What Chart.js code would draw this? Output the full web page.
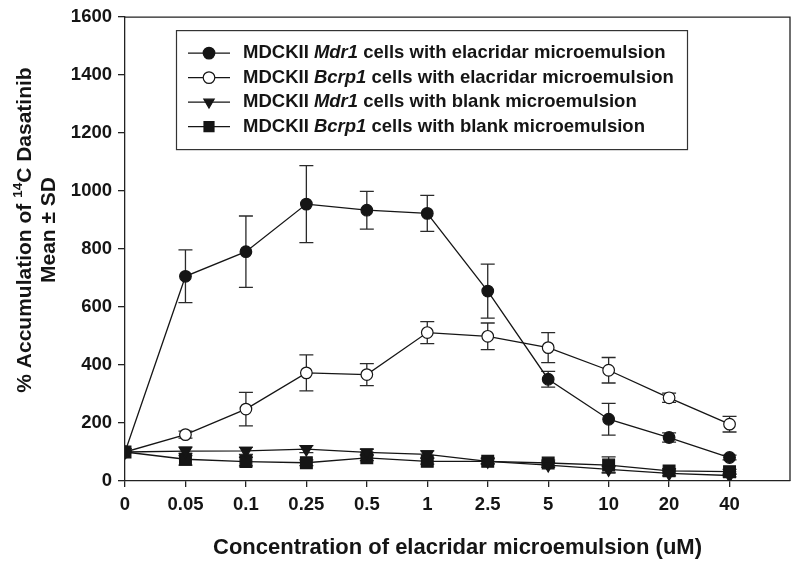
<!DOCTYPE html>
<html>
<head>
<meta charset="utf-8">
<script src="https://cdn.jsdelivr.net/npm/chart.js@4.4.1/dist/chart.umd.min.js"></script>
<style>
  html, body { margin: 0; padding: 0; background: #ffffff; }
  #wrap { width: 800px; height: 570px; }
</style>
</head>
<body>
<div id="wrap"><canvas id="c" width="800" height="570"></canvas></div>
<script>
// ---- data ----
const categories = ['0', '0.05', '0.1', '0.25', '0.5', '1', '2.5', '5', '10', '20', '40'];
const yTicks = [0, 200, 400, 600, 800, 1000, 1200, 1400, 1600];

const mdr1Elac      = [100, 706, 791, 955, 934, 923, 655, 351, 213, 150, 81];
const mdr1ElacSD    = [0, 91, 123, 133, 65, 62, 93, 27, 55, 16, 8];
const bcrp1Elac     = [100, 160, 248, 373, 367, 512, 499, 460, 382, 287, 196];
const bcrp1ElacSD   = [0, 12, 58, 62, 38, 38, 46, 52, 44, 16, 27];
const mdr1Blank     = [100, 103, 104, 110, 99, 92, 68, 55, 40, 26, 19];
const mdr1BlankSD   = [0, 15, 12, 12, 10, 12, 8, 8, 10, 8, 5];
const bcrp1Blank    = [100, 75, 67, 63, 80, 68, 68, 62, 55, 35, 32];
const bcrp1BlankSD  = [0, 20, 15, 10, 10, 10, 10, 10, 28, 8, 8];

const legendParts = [
  ['MDCKII ', 'Mdr1', ' cells with elacridar microemulsion'],
  ['MDCKII ', 'Bcrp1', ' cells with elacridar microemulsion'],
  ['MDCKII ', 'Mdr1', ' cells with blank microemulsion'],
  ['MDCKII ', 'Bcrp1', ' cells with blank microemulsion']
];
const xTitle = 'Concentration of elacridar microemulsion (uM)';

// ---- styling ----
const FONT = '"Liberation Sans", Arial, sans-serif';
const INK = '#151515';

function pts(arr) { return arr.map((v, i) => ({ x: i, y: v })); }

const seriesDefs = [
  { label: 'Mdr1 elacridar', data: mdr1Elac, sd: mdr1ElacSD, style: 'circle', rot: 0, fill: INK, r: 5.8 },
  { label: 'Bcrp1 elacridar', data: bcrp1Elac, sd: bcrp1ElacSD, style: 'circle', rot: 0, fill: '#ffffff', r: 5.8 },
  { label: 'Mdr1 blank', data: mdr1Blank, sd: mdr1BlankSD, style: 'triangle', rot: 180, fill: INK, r: 7 },
  { label: 'Bcrp1 blank', data: bcrp1Blank, sd: bcrp1BlankSD, style: 'rect', rot: 0, fill: INK, r: 8.3 }
];

const datasets = seriesDefs.map(s => ({
  label: s.label,
  data: pts(s.data),
  sdValues: s.sd,
  borderColor: INK,
  borderWidth: 1.3,
  pointStyle: s.style,
  pointRotation: s.rot,
  pointRadius: s.r,
  pointBackgroundColor: s.fill,
  pointBorderColor: INK,
  pointBorderWidth: 1.2,
  tension: 0,
  fill: false
}));

// error bars drawn through the chart's own scales
const errorBars = {
  id: 'errorBars',
  beforeDatasetsDraw(chart) {
    const { ctx, scales: { x, y } } = chart;
    ctx.save();
    ctx.strokeStyle = '#2a2a2a';
    ctx.lineWidth = 1.3;
    chart.data.datasets.forEach(ds => {
      ds.data.forEach((p, i) => {
        const sd = ds.sdValues[i];
        if (!sd) return;
        const px = x.getPixelForValue(p.x);
        const yT = y.getPixelForValue(p.y + sd);
        const yB = y.getPixelForValue(p.y - sd);
        const cw = 7;
        ctx.beginPath();
        ctx.moveTo(px, yT); ctx.lineTo(px, yB);
        ctx.moveTo(px - cw, yT); ctx.lineTo(px + cw, yT);
        ctx.moveTo(px - cw, yB); ctx.lineTo(px + cw, yB);
        ctx.stroke();
      });
    });
    ctx.restore();
  }
};

function drawMarker(ctx, style, fill, cx, cy, r) {
  ctx.beginPath();
  if (style === 'circle') {
    ctx.arc(cx, cy, r, 0, Math.PI * 2);
  } else if (style === 'triangle') {
    const half = r * Math.sqrt(3) / 2;
    ctx.moveTo(cx - half, cy - r * 0.5);
    ctx.lineTo(cx + half, cy - r * 0.5);
    ctx.lineTo(cx, cy + r);
    ctx.closePath();
  } else {
    const s = r * Math.SQRT1_2;
    ctx.rect(cx - s, cy - s, 2 * s, 2 * s);
  }
  ctx.fillStyle = fill;
  ctx.fill();
  ctx.lineWidth = 1.2;
  ctx.strokeStyle = INK;
  ctx.stroke();
}

const decorations = {
  id: 'decorations',
  afterDraw(chart) {
    const { ctx, chartArea: a } = chart;
    ctx.save();
    // frame (top & right)
    ctx.strokeStyle = '#222';
    ctx.lineWidth = 1.3;
    ctx.beginPath();
    ctx.moveTo(a.left, a.top); ctx.lineTo(a.right, a.top); ctx.lineTo(a.right, a.bottom);
    ctx.stroke();

    // legend box
    const lx = a.left + 51, ly = a.top + 13, lw = 511, lh = 119;
    ctx.fillStyle = '#fff';
    ctx.fillRect(lx, ly, lw, lh);
    ctx.strokeStyle = '#333';
    ctx.lineWidth = 1.2;
    ctx.strokeRect(lx + 0.5, ly + 0.5, lw, lh);
    legendParts.forEach((parts, k) => {
      const cy = ly + 23 + k * 24.5;
      const s = seriesDefs[k];
      ctx.strokeStyle = INK; ctx.lineWidth = 1.3;
      ctx.beginPath(); ctx.moveTo(lx + 12, cy); ctx.lineTo(lx + 54, cy); ctx.stroke();
      drawMarker(ctx, s.style, s.fill, lx + 33, cy, s.style === 'circle' ? s.r : s.r * 0.85);
      let tx = lx + 67;
      ctx.fillStyle = INK;
      ctx.textBaseline = 'middle';
      ctx.textAlign = 'left';
      parts.forEach((t, j) => {
        ctx.font = (j === 1 ? 'italic bold ' : 'bold ') + '18.5px ' + FONT;
        ctx.fillText(t, tx, cy);
        tx += ctx.measureText(t).width;
      });
    });

    // x title
    ctx.fillStyle = INK;
    ctx.font = 'bold 22px ' + FONT;
    ctx.textAlign = 'center';
    ctx.textBaseline = 'middle';
    ctx.fillText(xTitle, (a.left + a.right) / 2, 548);

    // y title (two lines, rotated, with superscript)
    ctx.save();
    ctx.translate(25, 230);
    ctx.rotate(-Math.PI / 2);
    const segs = [
      ['% Accumulation of ', 'bold 21px ', 0],
      ['14', 'bold 13.5px ', -7],
      ['C Dasatinib', 'bold 21px ', 0]
    ];
    let total = 0;
    segs.forEach(sg => { ctx.font = sg[1] + FONT; total += ctx.measureText(sg[0]).width; });
    let sx = -total / 2;
    ctx.textAlign = 'left';
    segs.forEach(sg => {
      ctx.font = sg[1] + FONT;
      ctx.fillText(sg[0], sx, sg[2]);
      sx += ctx.measureText(sg[0]).width;
    });
    ctx.font = 'bold 21px ' + FONT;
    ctx.textAlign = 'center';
    ctx.fillText('Mean \u00b1 SD', 0, 24);
    ctx.restore();

    ctx.restore();
  }
};

new Chart(document.getElementById('c'), {
  type: 'line',
  data: { datasets },
  options: {
    responsive: false,
    animation: false,
    layout: { padding: { left: 0, right: 10, top: 16, bottom: 0 } },
    plugins: { legend: { display: false }, tooltip: { enabled: false } },
    scales: {
      x: {
        type: 'linear',
        min: 0,
        max: 11,
        afterBuildTicks(scale) {
          scale.ticks = categories.map((c, i) => ({ value: i }));
        },
        afterFit(scale) { scale.height = 89; },
        ticks: {
          autoSkip: false,
          maxRotation: 0,
          padding: 7,
          color: INK,
          font: { family: FONT, size: 18.5, weight: 'bold' },
          callback: (v) => categories[v] !== undefined ? categories[v] : ''
        },
        grid: { drawOnChartArea: false, drawTicks: true, tickLength: 6, color: '#222', lineWidth: 1.3 },
        border: { display: true, color: '#222', width: 1.3 }
      },
      y: {
        type: 'linear',
        min: 0,
        max: 1600,
        afterBuildTicks(scale) {
          scale.ticks = yTicks.map(v => ({ value: v }));
        },
        afterFit(scale) { scale.width = 125; },
        ticks: {
          padding: 6,
          color: INK,
          font: { family: FONT, size: 18.5, weight: 'bold' },
          callback: (v) => String(v)
        },
        grid: { drawOnChartArea: false, drawTicks: true, tickLength: 7, color: '#222', lineWidth: 1.3 },
        border: { display: true, color: '#222', width: 1.3 }
      }
    }
  },
  plugins: [errorBars, decorations]
});
</script>
</body>
</html>
